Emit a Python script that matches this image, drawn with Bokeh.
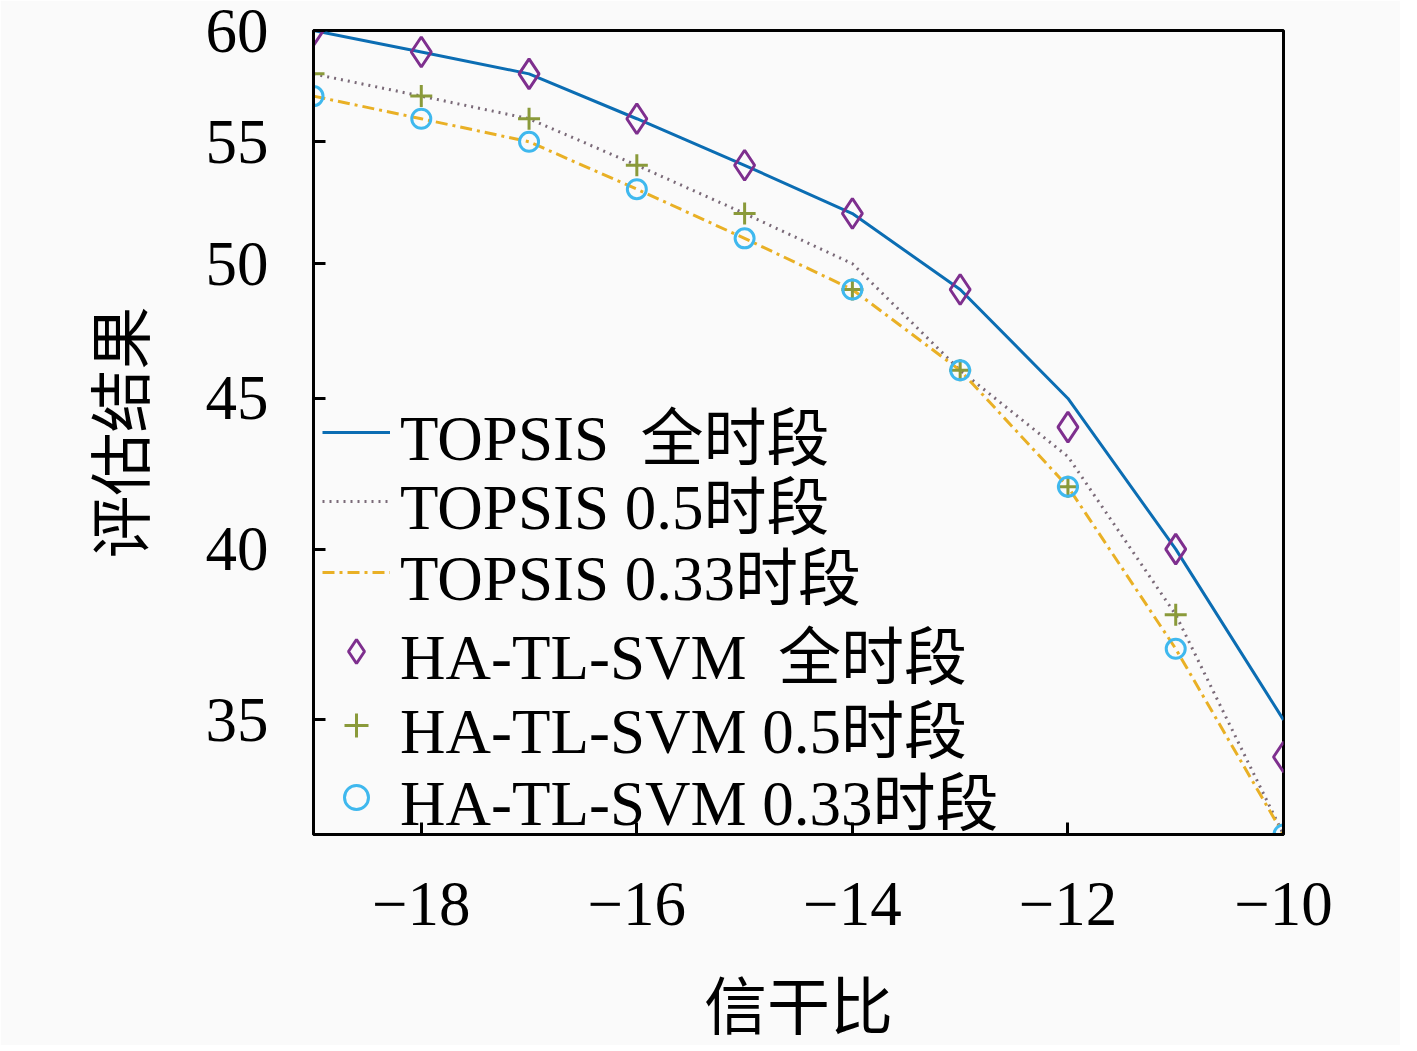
from bokeh.plotting import figure
from bokeh.models import FixedTicker, Legend, LegendItem, Range1d
from bokeh.embed import file_html
from bokeh.resources import INLINE

# ---- data ----
snr = [-19, -18, -17, -16, -15, -14, -13, -12, -11, -10]
topsis_full = [60, 59, 58, 56, 54, 52, 49, 45, 40, 35]
topsis_05 = [58, 57, 56, 54, 52, 50, 46, 43, 38, 32]
topsis_033 = [57, 56, 55, 53, 51, 49, 46, 42, 37, 32]
ha_full = [60, 59, 58, 56, 54, 52, 49, 44, 40, 34]
ha_05 = [58, 57, 56, 54, 52, 49, 46, 42, 38, 32]
ha_033 = [57, 56, 55, 53, 51, 49, 46, 42, 37, 32]

x_ticks = [-18, -16, -14, -12, -10]
x_tick_labels = ["\u221218", "\u221216", "\u221214", "\u221212", "\u221210"]
y_ticks = [35, 40, 45, 50, 55, 60]
y_tick_labels = ["35", "40", "45", "50", "55", "60"]

labels = ["TOPSIS  全时段", "TOPSIS 0.5时段", "TOPSIS 0.33时段",
          "HA-TL-SVM  全时段", "HA-TL-SVM 0.5时段", "HA-TL-SVM 0.33时段"]

FONT = "'Liberation Serif', 'Noto Sans CJK SC', serif"
FS = "63px"

FRAME_H = 837 - 30
p = figure(width=1400, height=1045, output_backend="svg", toolbar_location=None,
           y_axis_type="log",
           x_range=Range1d(-19, -10), y_range=Range1d(32, 60),
           min_border_left=313, min_border_right=117,
           min_border_top=30, min_border_bottom=208)

p.background_fill_color = "#fafafa"
p.border_fill_color = "#fafafa"
p.outline_line_color = "black"
p.outline_line_width = 3
p.xgrid.visible = False
p.ygrid.visible = False

# lines
l1 = p.line(snr, topsis_full, line_color="#0b6db3", line_width=3)
l2 = p.line(snr, topsis_05, line_color="#7a6a78", line_width=3, line_dash="2 5")
l3 = p.line(snr, topsis_033, line_color="#e9b025", line_width=3, line_dash="12 5 3 5")
# markers
m1 = p.scatter(snr, ha_full, marker="diamond", size=30, fill_color=None,
               line_color="#7e2f8e", line_width=3)
m2 = p.scatter(snr, ha_05, marker="cross", size=22,
               line_color="#8a9a3a", line_width=3)
m3 = p.scatter(snr, ha_033, marker="circle", size=19, fill_color=None,
               line_color="#3fb8ee", line_width=3)

renderers = [l1, l2, l3, m1, m2, m3]
# legend rows: offset of each row centre below frame top (px)
row_centres = [405, 474, 545, 624, 698, 770]
ITEM_H = 91
for lab, r, yc in zip(labels, renderers, row_centres):
    lg = Legend(items=[LegendItem(label=lab, renderers=[r])],
                location=(9, FRAME_H - yc - ITEM_H / 2))
    lg.background_fill_alpha = 0
    lg.border_line_alpha = 0
    lg.label_text_font = FONT
    lg.label_text_font_size = FS
    lg.label_text_color = "black"
    lg.label_height = 50
    lg.glyph_width = 68
    lg.glyph_height = 60
    lg.label_standoff = 10
    lg.margin = 0
    lg.padding = 0
    p.add_layout(lg)

# axes
p.xaxis.ticker = FixedTicker(ticks=x_ticks)
p.xaxis.major_label_overrides = {t: s for t, s in zip(x_ticks, x_tick_labels)}
p.yaxis.ticker = FixedTicker(ticks=y_ticks)
p.yaxis.major_label_overrides = {t: s for t, s in zip(y_ticks, y_tick_labels)}
p.xaxis.minor_tick_line_color = None
p.yaxis.minor_tick_line_color = None

for ax in (p.xaxis[0], p.yaxis[0]):
    ax.axis_line_color = "black"
    ax.axis_line_width = 3
    ax.major_tick_line_color = "black"
    ax.major_tick_line_width = 3
    ax.major_tick_in = 12
    ax.major_tick_out = 0
    ax.major_label_text_font = FONT
    ax.major_label_text_font_size = FS
    ax.major_label_text_color = "black"
    ax.axis_label_text_font = FONT
    ax.axis_label_text_font_size = FS
    ax.axis_label_text_font_style = "normal"
    ax.axis_label_text_color = "black"

p.xaxis.axis_label = "信干比"
p.yaxis.axis_label = "评估结果"
p.xaxis.major_label_standoff = 48
p.xaxis.axis_label_standoff = 45
p.yaxis.major_label_standoff = 45
p.yaxis.axis_label_standoff = 45

open("out.html", "w").write(file_html(p, INLINE))
